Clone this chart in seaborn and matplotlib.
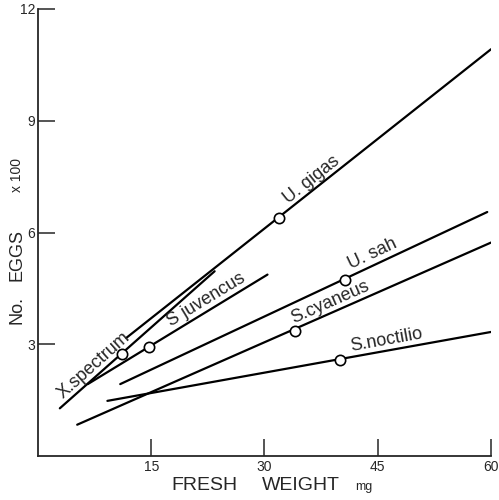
import pandas as pd
import matplotlib
matplotlib.use("Agg")
import matplotlib.pyplot as plt
import seaborn as sns

# regression lines: egg number (x100) against fresh weight (mg)
species = ["U. gigas", "X.spectrum", "S juvencus", "U. sah", "S.cyaneus", "S.noctilio"]
x_start = [11.7, 2.9, 6.6, 10.9, 5.2, 9.2]
y_start = [3.17, 1.28, 1.93, 1.93, 0.84, 1.48]
x_end = [60.0, 23.4, 30.4, 59.5, 60.0, 60.0]
y_end = [10.92, 4.96, 4.87, 6.55, 5.73, 3.33]
# mean points (open circles)
x_mean = [31.9, 11.1, 14.7, 40.6, 34.1, 40.0]
y_mean = [6.39, 2.73, 2.93, 4.72, 3.36, 2.59]

x_ticks = [15, 30, 45, 60]
y_ticks = [3, 6, 9, 12]

lines = pd.DataFrame({
    "species": species * 2,
    "weight": x_start + x_end,
    "eggs": y_start + y_end,
})
means = pd.DataFrame({"species": species, "weight": x_mean, "eggs": y_mean})

sns.set_style("ticks")
plt.rcParams["font.family"] = ["Liberation Sans", "DejaVu Sans"]

fig = plt.figure(figsize=(4.99, 5.0), dpi=100)
ax = fig.add_axes([0.076, 0.088, 0.908, 0.894])

sns.lineplot(data=lines, x="weight", y="eggs", units="species", estimator=None,
             color="black", linewidth=1.6, ax=ax, legend=False)
sns.scatterplot(data=means, x="weight", y="eggs", marker="o", s=55,
                facecolor="white", edgecolor="black", linewidth=1.2,
                zorder=5, ax=ax, legend=False)

# species labels sitting on their lines (x, y on line, angle in degrees)
label_pos = {
    "U. gigas": (36.9, 7.25, 38.4),
    "X.spectrum": (8.2, 2.27, 41.8),
    "S juvencus": (22.9, 4.00, 31.3),
    "U. sah": (44.8, 5.22, 25.2),
    "S.cyaneus": (39.2, 3.93, 23.8),
    "S.noctilio": (46.4, 2.89, 10.2),
}
for name, (lx, ly, rot) in label_pos.items():
    ax.text(lx, ly, name, rotation=rot, rotation_mode="anchor",
            ha="center", va="bottom", fontsize=13)

ax.set_xlim(0, 60)
ax.set_ylim(0, 12)
ax.set_xticks(x_ticks)
ax.set_yticks(y_ticks)
ax.set_xticklabels([str(t) for t in x_ticks], fontsize=10)
ax.set_yticklabels([str(t) for t in y_ticks], fontsize=10)
ax.tick_params(direction="in", length=12, width=1.1, pad=3)
ax.tick_params(axis="y", pad=2)
sns.despine(ax=ax)
for side in ["left", "bottom"]:
    ax.spines[side].set_linewidth(1.3)
ax.set_xlabel("")
ax.set_ylabel("")

fig.text(0.410, 0.020, "FRESH", fontsize=14, ha="center", va="baseline")
fig.text(0.603, 0.020, "WEIGHT", fontsize=14, ha="center", va="baseline")
fig.text(0.729, 0.020, "mg", fontsize=9, ha="center", va="baseline")
fig.text(0.034, 0.38, "No.", fontsize=13, rotation=90, ha="center", va="center")
fig.text(0.034, 0.49, "EGGS", fontsize=13, rotation=90, ha="center", va="center")
fig.text(0.034, 0.65, "x 100", fontsize=10, rotation=90, ha="center", va="center")

fig.savefig("out.png", dpi=100)
